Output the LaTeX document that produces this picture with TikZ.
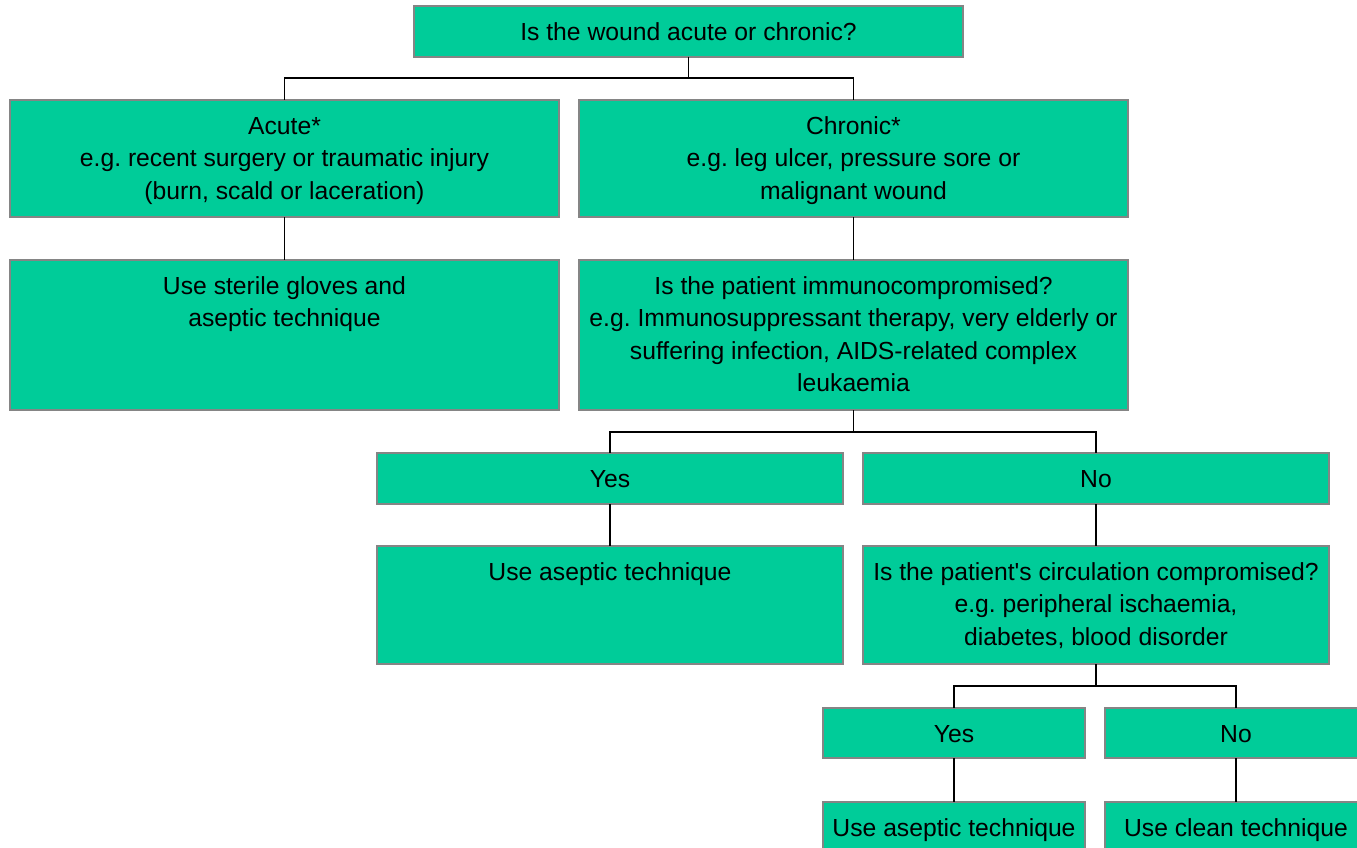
\documentclass[tikz,border=0pt]{standalone}
\usepackage{fontspec}
\setmainfont{Liberation Sans}
\frenchspacing
\definecolor{boxgreen}{HTML}{00CC99}
\definecolor{boxedge}{HTML}{858585}
\newcommand\flowbox[6]{%
  \node[fbox, minimum width={#4-#2}, minimum height={#5-#3}] (#1) at ({(#2+#4)/2},{(#3+#5)/2}) {};
  \node[ftext, anchor=north] (#1-t) at ([yshift=-14pt]#1.north) {\rule{0pt}{20pt}#6};
}
\tikzset{
  fbox/.style={rectangle, fill=boxgreen, draw=boxedge, line width=1.2pt, inner sep=0pt, outer sep=0pt},
  ftext/.style={inner sep=0pt, align=center, font=\fontsize{24.7}{32.5}\selectfont},
  conn/.style={draw=black, line width=1.4pt}
}
\begin{document}
\begin{tikzpicture}[x=1pt,y=-1pt]
\useasboundingbox (0,0) rectangle (1357,848);
\flowbox{top}{414}{6}{963}{57}{Is the wound acute or chronic?}
\flowbox{acute}{10}{100}{559}{217}{Acute*\\e.g. recent surgery or traumatic injury\\(burn, scald or laceration)}
\flowbox{chronic}{579}{100}{1128}{217}{Chronic*\\e.g. leg ulcer, pressure sore or\\malignant wound}
\flowbox{sterile}{10}{260}{559}{410}{Use sterile gloves and\\aseptic technique}
\flowbox{immuno}{579}{260}{1128}{410}{Is the patient immunocompromised?\\e.g. Immunosuppressant therapy, very elderly or\\suffering infection, AIDS-related complex\\leukaemia}
\flowbox{yes}{377}{453}{843}{504}{Yes}
\flowbox{no}{863}{453}{1329}{504}{No}
\flowbox{asep}{377}{546}{843}{664}{Use aseptic technique}
\flowbox{circ}{863}{546}{1329}{664}{Is the patient\textquotesingle s circulation compromised?\\e.g. peripheral ischaemia,\\diabetes, blood disorder}
\flowbox{yestwo}{823}{708}{1085}{758}{Yes}
\flowbox{notwo}{1105}{708}{1367}{758}{No}
\flowbox{aseptwo}{823}{802}{1085}{853}{Use aseptic technique}
\flowbox{clean}{1105}{802}{1367}{853}{Use clean technique}

\draw[conn] (top.south) -- ++(0,21) -| (acute.north);
\draw[conn] (top.south) -- ++(0,21) -| (chronic.north);
\draw[conn] (acute.south) -- (sterile.north);
\draw[conn] (chronic.south) -- (immuno.north);
\draw[conn] (immuno.south) -- ++(0,22) -| (yes.north);
\draw[conn] (immuno.south) -- ++(0,22) -| (no.north);
\draw[conn] (yes.south) -- (asep.north);
\draw[conn] (no.south) -- (circ.north);
\draw[conn] (circ.south) -- ++(0,22) -| (yestwo.north);
\draw[conn] (circ.south) -- ++(0,22) -| (notwo.north);
\draw[conn] (yestwo.south) -- (aseptwo.north);
\draw[conn] (notwo.south) -- (clean.north);
\end{tikzpicture}
\end{document}
